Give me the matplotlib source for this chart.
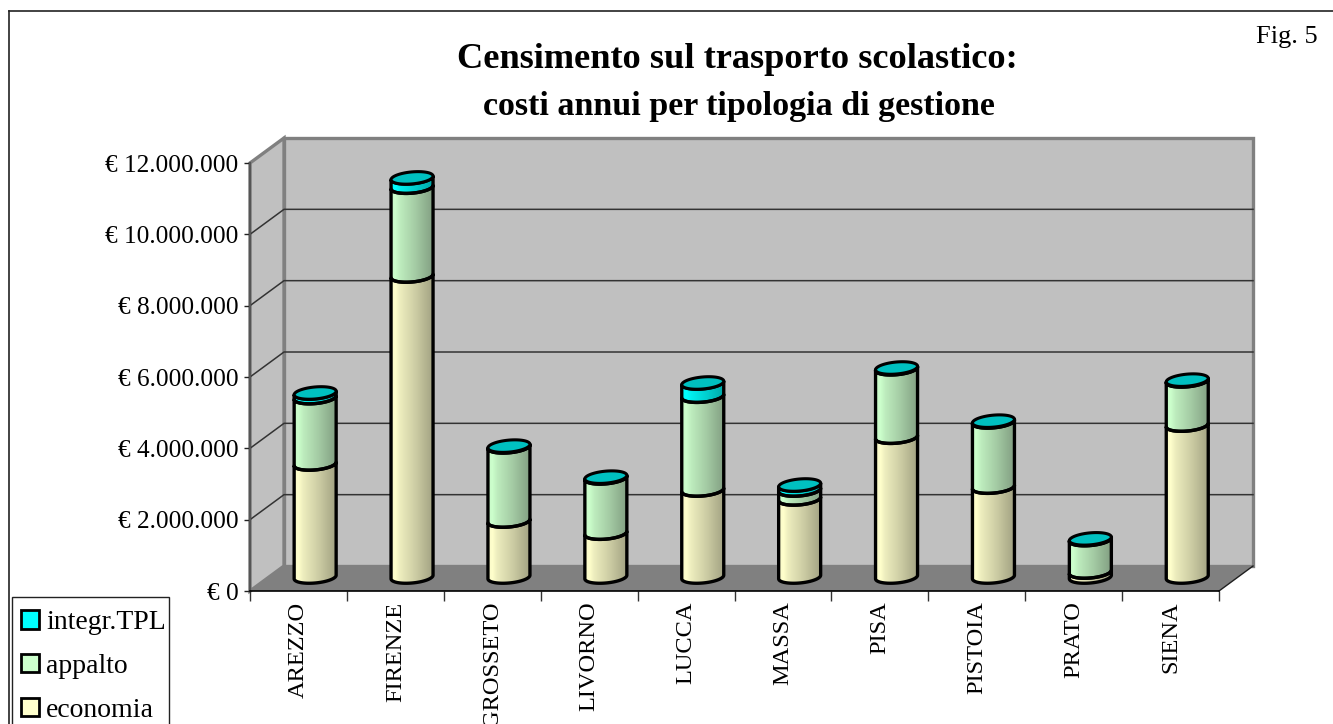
import numpy as np
import matplotlib
matplotlib.use('Agg')
import matplotlib.pyplot as plt
from matplotlib.colors import to_rgb
from matplotlib.lines import Line2D
from matplotlib.patches import Patch, Polygon, Rectangle

plt.rcParams['font.family'] = ['Liberation Serif', 'DejaVu Serif']

province = ['AREZZO', 'FIRENZE', 'GROSSETO', 'LIVORNO', 'LUCCA', 'MASSA', 'PISA', 'PISTOIA', 'PRATO', 'SIENA']
economia = [3170000, 8440000, 1570000, 1230000, 2440000, 2190000, 3920000, 2520000, 140000, 4260000]
appalto = [1860000, 2490000, 2080000, 1550000, 2630000, 250000, 1920000, 1830000, 910000, 1240000]
integr_tpl = [130000, 260000, 20000, 20000, 370000, 140000, 20000, 20000, 20000, 20000]
y_ticks = [0, 2000000, 4000000, 6000000, 8000000, 10000000, 12000000]
y_labels = ['€ 0', '€ 2.000.000', '€ 4.000.000', '€ 6.000.000', '€ 8.000.000', '€ 10.000.000', '€ 12.000.000']

W, H = 1333, 724
PX_X = 96.9            # pixels per category
PX_Y = 35.67 / 1e6     # pixels per euro
DEPTH_X = 34 / PX_X
DEPTH_Y = 25 / PX_Y
BAR_DX = 16.7 / PX_X
BAR_DY = 14 / PX_Y
BAR_A = 21 / PX_X
BAR_B = 6 / PX_Y
BAR_TILT = 1.8 / PX_Y

fig = plt.figure(figsize=(W / 100, H / 100), dpi=100, facecolor='white')
ax = fig.add_axes([250 / W, 1 - 591 / H, 969 / W, 428 / H])
ax.patch.set_visible(False)


def ellipse_half(cx, y, n=40):
    t = np.linspace(np.pi, 2 * np.pi, n)
    return cx + BAR_A * np.cos(t), y + BAR_B * np.sin(t) + BAR_TILT * np.cos(t)


def draw_segment(cx, y1, y2, col_light, col_dark):
    x_lo, y_lo = ellipse_half(cx, y1)
    x_hi, y_hi = ellipse_half(cx, y2)
    pts = np.column_stack([np.r_[x_lo, x_hi[::-1]], np.r_[y_lo, y_hi[::-1]]])
    # shading: bright band near the left, getting darker to the right
    c1, c2 = np.array(to_rgb(col_light)), np.array(to_rgb(col_dark))
    mid = c1 * 0.55 + c2 * 0.45
    pos = np.array([0.0, 0.1, 0.22, 0.6, 1.0])
    stops = [c1 * 0.98, c1, c1 * 0.55 + mid * 0.45, mid * 0.8 + c2 * 0.2, c2]
    u = np.linspace(0, 1, 64)
    grad = np.column_stack([np.interp(u, pos, [s[i] for s in stops]) for i in range(3)])[None, :, :]
    im = ax.imshow(grad, extent=(cx - BAR_A, cx + BAR_A, y1 - BAR_B - BAR_TILT, y2 + BAR_B + BAR_TILT),
                   aspect='auto', zorder=5, interpolation='bilinear', origin='lower')
    poly = Polygon(pts, closed=True, facecolor='none', edgecolor='black', linewidth=2.4, zorder=6,
                   clip_on=False, joinstyle='round')
    ax.add_patch(poly)
    im.set_clip_path(poly)


def draw_cap(cx, y):
    t = np.linspace(0, 2 * np.pi, 80)
    pts = np.column_stack([cx + BAR_A * np.cos(t), y + BAR_B * np.sin(t) + BAR_TILT * np.cos(t)])
    ax.add_patch(Polygon(pts, closed=True, facecolor='#00C0C0', edgecolor='black', linewidth=2.2,
                         zorder=7, clip_on=False))


# walls and floor
ax.add_patch(Polygon([(DEPTH_X, DEPTH_Y), (10 + DEPTH_X, DEPTH_Y), (10 + DEPTH_X, 12e6 + DEPTH_Y), (DEPTH_X, 12e6 + DEPTH_Y)],
                     facecolor='#C0C0C0', edgecolor='#808080', linewidth=2.4, zorder=1, clip_on=False))
ax.add_patch(Polygon([(0, 0), (DEPTH_X, DEPTH_Y), (DEPTH_X, 12e6 + DEPTH_Y), (0, 12e6)],
                     facecolor='#C0C0C0', edgecolor='#808080', linewidth=2.4, zorder=1, clip_on=False))
ax.add_patch(Polygon([(0, 0), (10, 0), (10 + DEPTH_X, DEPTH_Y), (DEPTH_X, DEPTH_Y)],
                     facecolor='#808080', edgecolor='none', zorder=2, clip_on=False))
ax.plot([10, 10 + DEPTH_X], [0, DEPTH_Y], color='#202020', lw=1, zorder=3, clip_on=False)
for v in y_ticks[1:-1]:
    ax.plot([0, DEPTH_X, 10 + DEPTH_X], [v, v + DEPTH_Y, v + DEPTH_Y], color='#333333', lw=1.1, zorder=3, clip_on=False)

# cylinders
for i in range(len(province)):
    cx = i + 0.5 + BAR_DX
    base = BAR_DY
    a = base + economia[i]
    b = a + appalto[i]
    c = b + integr_tpl[i]
    draw_segment(cx, base, a, '#FFFFCC', '#A3A383')
    draw_segment(cx, a, b, '#CCFFCC', '#83A083')
    draw_segment(cx, b, c, '#00FFFF', '#00A8A8')
    draw_cap(cx, c)

ax.set_xlim(0, 10)
ax.set_ylim(0, 12e6)
ax.set_yticks(y_ticks)
ax.set_yticklabels(y_labels, fontsize=18.2)
ax.set_xticks(range(11))
ax.set_xticklabels([])
ax.set_xticks(np.arange(10) + 0.5, minor=True)
ax.set_xticklabels(province, minor=True, rotation=90, fontsize=17.6, va='top', ha='center')
ax.tick_params(axis='x', which='major', length=7, width=1, color='#333333')
ax.tick_params(axis='x', which='minor', length=0, pad=7.5)
ax.tick_params(axis='y', length=4.3, width=1, pad=4, color='#222222')
ax.spines['top'].set_visible(False)
ax.spines['right'].set_visible(False)
ax.spines['left'].set_color('#555555')
ax.spines['left'].set_linewidth(1.6)
ax.spines['left'].set_zorder(4)
ax.spines['bottom'].set_color('black')
ax.spines['bottom'].set_linewidth(1.2)
ax.spines['bottom'].set_zorder(4)

# outer frame, only the top and left edges are inside the picture
fig.add_artist(Line2D([8.5 / W, 8.5 / W], [0, 1 - 11 / H], color='#222222', lw=1.2))
fig.add_artist(Line2D([8.5 / W, 1], [1 - 11 / H, 1 - 11 / H], color='#222222', lw=1.2))

fig.text(737 / W, 1 - 60 / H, 'Censimento sul trasporto scolastico:', fontsize=26.2, fontweight='bold', ha='center', va='center')
fig.text(739 / W, 1 - 107 / H, 'costi annui per tipologia di gestione', fontsize=24.5, fontweight='bold', ha='center', va='center')
fig.text(1318 / W, 1 - 37 / H, 'Fig. 5', fontsize=19, ha='right', va='center')

# legend box runs past the bottom of the picture, so it is drawn apart from the legend
fig.add_artist(Rectangle((12 / W, -0.02), 157 / W, 1 - 597 / H + 0.02, transform=fig.transFigure,
                         facecolor='none', edgecolor='#222222', linewidth=1))
handles = [Patch(facecolor='#00FFFF', edgecolor='black', linewidth=2),
           Patch(facecolor='#CCFFCC', edgecolor='black', linewidth=2),
           Patch(facecolor='#FFFFCC', edgecolor='black', linewidth=2)]
leg = ax.legend(handles, ['integr.TPL', 'appalto', 'economia'], loc='upper left',
                bbox_to_anchor=(21 / W, 1 - 610 / H), bbox_transform=fig.transFigure,
                borderaxespad=0, fontsize=20, frameon=False,
                handlelength=0.65, handleheight=0.65, handletextpad=0.25, labelspacing=0.68,
                borderpad=0)
leg.set_zorder(10)

fig.savefig('out.png', dpi=100)
